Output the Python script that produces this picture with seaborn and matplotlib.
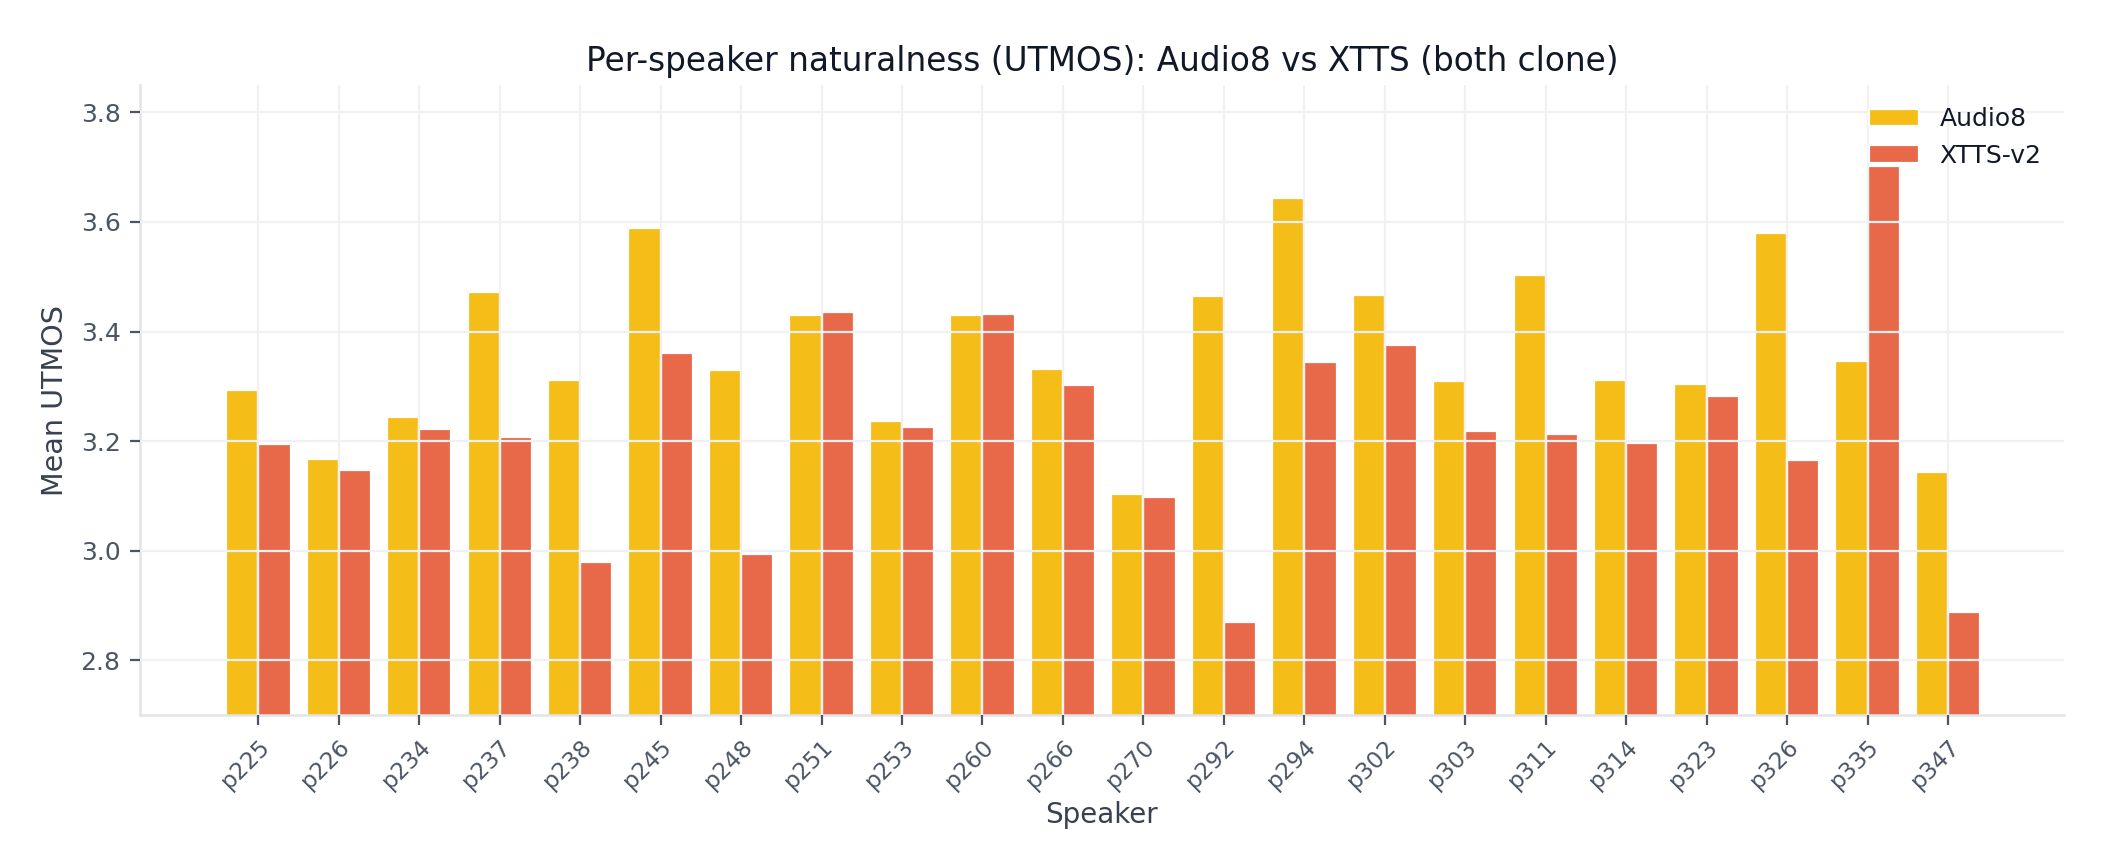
import numpy as np
import pandas as pd
import seaborn as sns
import matplotlib.pyplot as plt

# per-speaker mean UTMOS
speakers = ["p225", "p226", "p234", "p237", "p238", "p245", "p248", "p251",
            "p253", "p260", "p266", "p270", "p292", "p294", "p302", "p303",
            "p311", "p314", "p323", "p326", "p335", "p347"]
audio8 = [3.293, 3.168, 3.244, 3.472, 3.312, 3.589, 3.329, 3.430,
          3.236, 3.430, 3.332, 3.104, 3.464, 3.643, 3.467, 3.310,
          3.503, 3.312, 3.305, 3.579, 3.347, 3.143]
xtts = [3.195, 3.148, 3.222, 3.207, 2.979, 3.361, 2.994, 3.435,
        3.226, 3.432, 3.302, 3.099, 2.871, 3.344, 3.376, 3.219,
        3.214, 3.197, 3.283, 3.165, 3.702, 2.888]
systems = ["Audio8", "XTTS-v2"]
colors = ["#F5BD18", "#E8694A"]

df = pd.DataFrame({
    "Speaker": speakers * 2,
    "UTMOS": audio8 + xtts,
    "System": [systems[0]] * len(speakers) + [systems[1]] * len(speakers),
})

sns.set_theme(style="white")
plt.rcParams["font.family"] = ["DejaVu Sans"]

fig, ax = plt.subplots(figsize=(10.53, 4.33), dpi=200)
fig.subplots_adjust(left=0.0665, right=0.980, top=0.902, bottom=0.174)

sns.barplot(data=df, x="Speaker", y="UTMOS", hue="System", order=speakers,
            hue_order=systems, palette=colors, saturation=1, width=0.8,
            edgecolor="white", linewidth=0.8, ax=ax)

ax.set_ylim(2.7, 3.85)
ax.set_xlim(-1.47, len(speakers) + 0.44)
ax.set_yticks([2.8, 3.0, 3.2, 3.4, 3.6, 3.8])

# grid sits on top of the bars
ax.set_axisbelow(False)
ax.grid(True, color="#f1f1f3", linewidth=0.8)

for s in ["top", "right"]:
    ax.spines[s].set_visible(False)
for s in ["left", "bottom"]:
    ax.spines[s].set_color("#e3e4e8")
    ax.spines[s].set_linewidth(0.9)

ax.tick_params(axis="both", which="major", length=3.5, width=0.8,
               color="#4b5563", labelcolor="#4b5563", bottom=True, left=True)
ax.tick_params(axis="y", labelsize=9)
ax.tick_params(axis="x", labelsize=8.4)
plt.setp(ax.get_xticklabels(), rotation=45, ha="right", rotation_mode="anchor")

ax.set_title("Per-speaker naturalness (UTMOS): Audio8 vs XTTS (both clone)",
             fontsize=11.8, color="#111827", pad=5)
ax.set_xlabel("Speaker", fontsize=10, color="#374151", labelpad=3)
ax.set_ylabel("Mean UTMOS", fontsize=10.3, color="#374151")

leg = ax.legend(loc="upper right", frameon=False, fontsize=9)
for t in leg.get_texts():
    t.set_color("#111827")

fig.savefig("out.png", dpi=200)
